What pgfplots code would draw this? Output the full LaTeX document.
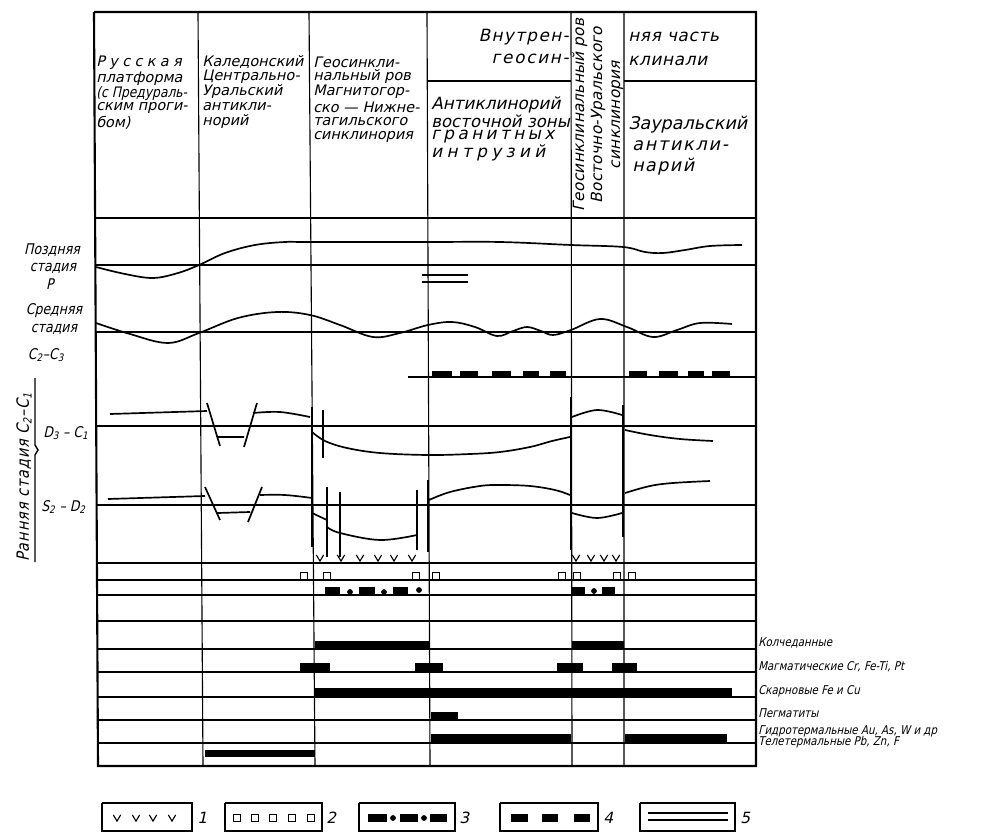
\documentclass[border=0pt]{standalone}
\usepackage{pgfplots}
\pgfplotsset{compat=1.18}
\usepackage{fontspec}
\setmainfont{DejaVu Sans}
\newfontfamily\gost{DejaVu Sans}[FakeSlant=0.22]
\newfontfamily\gostn{DejaVu Sans}[FakeSlant=0.22, FakeStretch=0.85]

% small "v" used for the volcanic rows
\pgfdeclareplotmark{vee}{%
  \pgfpathmoveto{\pgfqpoint{-2.6pt}{2.2pt}}%
  \pgfpathlineto{\pgfqpoint{0pt}{-2.2pt}}%
  \pgfpathlineto{\pgfqpoint{2.6pt}{2.2pt}}%
  \pgfusepathqstroke}

\tikzset{
  rule/.style={black, line width=0.8pt},
  frame/.style={black, line width=1.5pt},
  curve/.style={black, line width=1.2pt, smooth, tension=0.6},
  fault/.style={black, line width=2pt},
  bar/.style={black, line width=#1},
  hd/.style={font=\gost\fontsize{10.3}{11}\selectfont, anchor=west, inner sep=0pt},
  big/.style={font=\gost\fontsize{12}{13}\selectfont, anchor=west, inner sep=0pt},
  lab/.style={font=\gostn\fontsize{8.6}{9}\selectfont, anchor=west, inner sep=0pt},
  side/.style={font=\gostn\fontsize{10.5}{11}\selectfont, inner sep=0pt},
  num/.style={font=\gost\fontsize{11}{12}\selectfont, anchor=west, inner sep=0pt},
}

\begin{document}
\begin{tikzpicture}
\begin{axis}[
  hide axis, scale only axis,
  width=24.525cm, height=20.9cm,
  xmin=0, xmax=981, ymin=0, ymax=836,
  y dir=reverse, clip=false,
  unbounded coords=jump,
]
\addplot[draw=none] coordinates {(0,0) (981,836)};

% ---- table grid
\addplot[rule] coordinates {
  (95,218) (756,218) (0,nan) (95,265) (756,265) (0,nan)
  (95,332) (756,332) (0,nan) (96,426) (756,426) (0,nan)
  (97,505) (756,505) (0,nan) (97,563) (756,563) (0,nan)
  (97,580) (756,580) (0,nan) (97,595) (756,595) (0,nan)
  (97,621) (756,621) (0,nan) (97,649) (756,649) (0,nan)
  (97,672) (756,672) (0,nan) (98,697) (756,697) (0,nan)
  (98,720) (756,720) (0,nan) (98,743) (756,743) (0,nan)
  (428,81) (571,81) (0,nan) (624,81) (756,81) (0,nan)
  (408,377) (756,377)};
\addplot[rule] coordinates {
  (198,12) (203,766) (0,nan) (309,12) (315,766) (0,nan)
  (427,12) (430,766) (0,nan) (571,12) (572,766) (0,nan)
  (624,12) (624,766)};
\addplot[frame] coordinates {(94,12) (756,12) (756,766) (98,766) (94,12)};

% ---- late stage
\addplot[curve] coordinates {(96,267) (125,274) (153,278) (178,273) (199,265)
  (225,253) (255,245) (285,242) (310,242) (428,242) (500,242) (571,245)
  (623,247) (645,252) (663,253) (685,250) (710,246) (742,245)};
% ---- middle stage
\addplot[curve] coordinates {(96,323) (130,334) (168,343) (199,333) (238,318)
  (277,312) (310,315) (340,325) (373,337) (400,333) (428,325) (452,322)
  (475,327) (497,336) (513,331) (527,327) (541,331) (553,335) (571,330)
  (600,319) (627,327) (653,337) (677,330) (700,323) (732,324)};
\addplot[rule, line width=1.1pt] coordinates {(422,275) (468,275) (0,nan) (422,282) (468,282)};

% ---- early stage D3-C1
\addplot[curve] coordinates {(110,414) (207,411)};
\addplot[rule, line width=1.2pt] coordinates {(207,403) (220,446) (0,nan) (218,437) (244,437)
  (0,nan) (244,447) (257,403)};
\addplot[curve] coordinates {(253,413) (280,412) (310,417)};
\addplot[curve] coordinates {(312,432) (325,441) (347,448) (380,453) (428,455)
  (470,454) (500,452) (530,447) (552,441) (570,437)};
\addplot[curve] coordinates {(572,417) (597,410) (622,415)};
\addplot[curve] coordinates {(625,430) (650,435) (680,439) (713,441)};

% ---- early stage S2-D2
\addplot[curve] coordinates {(108,499) (205,496)};
\addplot[rule, line width=1.2pt] coordinates {(205,487) (220,520) (0,nan) (218,513) (250,512)
  (0,nan) (248,522) (262,487)};
\addplot[curve] coordinates {(260,495) (285,495) (312,498)};
\addplot[curve] coordinates {(312,513) (327,520)};
\addplot[curve] coordinates {(327,527) (340,533) (380,540) (417,535)};
\addplot[curve] coordinates {(429,500) (450,492) (480,486) (500,485) (530,486) (555,490) (570,495)};
\addplot[curve] coordinates {(572,513) (597,518) (622,513)};
\addplot[curve] coordinates {(625,493) (650,486) (673,483) (710,481)};

% ---- faults
\addplot[fault] coordinates {(312,407) (312,547) (0,nan) (428,480) (428,552)
  (0,nan) (571,397) (571,550) (0,nan) (623,405) (623,537)};
\addplot[rule, line width=1.5pt] coordinates {(323,410) (323,458) (0,nan) (327,487) (327,557)
  (0,nan) (340,492) (340,557) (0,nan) (417,490) (417,550)};

% ---- rows of signs 1-4
\addplot[only marks, mark=vee, line width=0.8pt] coordinates {(320,558) (341,558) (360,558)
  (378,558) (394,558) (412,558) (576,558) (591,558) (604,558) (616,558)};
\addplot[only marks, mark=square, mark size=2.5pt, line width=0.8pt] coordinates {(304,576)
  (327,576) (416,576) (436,576) (562,576) (577,576) (617,576) (632,576)};
\addplot[bar=5.7pt] coordinates {(325,591) (340,591) (0,nan) (359,591) (375,591) (0,nan)
  (393,591) (408,591) (0,nan) (571,591) (585,591) (0,nan) (602,591) (615,591)};
\addplot[only marks, mark=*, mark size=1.8pt] coordinates {(350,592) (384,592) (419,590) (594,591)};
\addplot[bar=4.3pt] coordinates {(432,374) (452,374) (0,nan) (460,374) (478,374) (0,nan)
  (492,374) (511,374) (0,nan) (523,374) (539,374) (0,nan) (550,374) (566,374) (0,nan)
  (629,374) (647,374) (0,nan) (659,374) (678,374) (0,nan) (688,374) (704,374) (0,nan)
  (712,374) (730,374)};

% ---- ore types
\addplot[bar=5pt] coordinates {(315,644.5) (430,644.5) (0,nan) (572,644.5) (624,644.5)};
\addplot[bar=6.4pt] coordinates {(300,667.5) (330,667.5) (0,nan) (415,667.5) (443,667.5)
  (0,nan) (557,667.5) (583,667.5) (0,nan) (612,667.5) (637,667.5)};
\addplot[bar=5.7pt] coordinates {(315,692) (732,692)};
\addplot[bar=5pt] coordinates {(431,715.5) (458,715.5)};
\addplot[bar=5.7pt] coordinates {(431,738) (571,738) (0,nan) (625,738) (727,738)};
\addplot[bar=5pt] coordinates {(205,753.5) (315,753.5)};

% ---- legend boxes
\addplot[rule, line width=1pt] coordinates {(102,803) (192,803) (192,831) (102,831) (102,803)
  (0,nan) (225,803) (322,803) (322,831) (225,831) (225,803)
  (0,nan) (359,803) (455,803) (455,831) (359,831) (359,803)
  (0,nan) (500,803) (598,803) (598,831) (500,831) (500,803)
  (0,nan) (640,803) (735,803) (735,831) (640,831) (640,803)};
\addplot[only marks, mark=vee, line width=0.8pt] coordinates {(117,818) (136,818) (153,818) (172,818)};
\addplot[only marks, mark=square, mark size=2.5pt, line width=0.8pt] coordinates {(237,818)
  (255,818) (273,818) (292,818) (311,818)};
\addplot[bar=5.7pt] coordinates {(368,818) (387,818) (0,nan) (400,818) (418,818) (0,nan) (430,818) (447,818)};
\addplot[only marks, mark=*, mark size=1.8pt] coordinates {(393,818) (424,818)};
\addplot[bar=5.7pt] coordinates {(511,818) (528,818) (0,nan) (542,818) (558,818) (0,nan) (574,818) (590,818)};
\addplot[rule, line width=1.1pt] coordinates {(648,813) (728,813) (0,nan) (648,820) (728,820)};

% ---- header texts
\node[hd] at (axis cs:96,63) {\addfontfeature{LetterSpace=30}Русская};
\node[hd] at (axis cs:96,79) {платформа};
\node[hd, font=\gostn\fontsize{10.3}{11}\selectfont] at (axis cs:96,94) {(с Предураль-};
\node[hd] at (axis cs:96,108) {ским проги-};
\node[hd] at (axis cs:96,123) {бом)};

\node[hd] at (axis cs:202,62) {Каледонский};
\node[hd] at (axis cs:202,77) {Центрально-};
\node[hd] at (axis cs:202,92) {Уральский};
\node[hd] at (axis cs:202,107) {антикли-};
\node[hd] at (axis cs:202,122) {норий};

\node[hd] at (axis cs:313,62) {Геосинкли-};
\node[hd] at (axis cs:313,77) {нальный ров};
\node[hd] at (axis cs:313,92) {Магнитогор-};
\node[hd] at (axis cs:313,107) {ско — Нижне-};
\node[hd] at (axis cs:313,122) {тагильского};
\node[hd] at (axis cs:313,137) {синклинория};

\node[big, anchor=east] at (axis cs:569,37) {\addfontfeature{LetterSpace=8}Внутрен-};
\node[big, anchor=east] at (axis cs:569,59) {\addfontfeature{LetterSpace=10}геосин-};
\node[big] at (axis cs:628,37) {\addfontfeature{LetterSpace=4}няя часть};
\node[big] at (axis cs:628,61) {\addfontfeature{LetterSpace=4}клинали};

\node[big] at (axis cs:431,105) {Антиклинорий};
\node[big, font=\gost\fontsize{11.8}{13}\selectfont] at (axis cs:431,121) {восточной зоны};
\node[big] at (axis cs:431,137) {\addfontfeature{LetterSpace=20}гранитных};
\node[big] at (axis cs:431,153) {\addfontfeature{LetterSpace=26}интрузий};

\node[big, font=\gost\fontsize{12.5}{14}\selectfont] at (axis cs:628,125) {Зауральский};
\node[big, font=\gost\fontsize{12.5}{14}\selectfont] at (axis cs:632,146) {\addfontfeature{LetterSpace=10}антикли-};
\node[big, font=\gost\fontsize{12.5}{14}\selectfont] at (axis cs:632,167) {\addfontfeature{LetterSpace=8}нарий};

\node[font=\gost\fontsize{11}{12.8}\selectfont, rotate=90, align=center, inner sep=0pt]
  at (axis cs:598,115) {\addfontfeature{LetterSpace=1}Геосинклинальный ров\\\addfontfeature{LetterSpace=1}Восточно-Уральского\\\addfontfeature{LetterSpace=1}синклинория};

% ---- stage labels (left)
\node[side] at (axis cs:52,250) {Поздняя};
\node[side] at (axis cs:53,268) {стадия};
\node[side] at (axis cs:50,284) {P};
\node[side] at (axis cs:54,311) {Средняя};
\node[side] at (axis cs:54,329) {стадия};
\node[side] at (axis cs:46,355) {C\textsubscript{2}–C\textsubscript{3}};
\node[side, anchor=west] at (axis cs:43,433) {D\textsubscript{3} – C\textsubscript{1}};
\node[side, anchor=west] at (axis cs:41,507) {S\textsubscript{2} – D\textsubscript{2}};
\node[font=\gostn\fontsize{12}{12}\selectfont, rotate=90, anchor=west, inner sep=0pt]
  at (axis cs:24,562) {\addfontfeature{LetterSpace=6}Ранняя стадия C\textsubscript{2}–C\textsubscript{1}};
\addplot[rule, line width=1pt] coordinates {(35,562) (35,455) (38,450) (35,445) (35,378)};

% ---- ore labels (right)
\node[lab] at (axis cs:758,643) {Колчеданные};
\node[lab] at (axis cs:758,667) {Магматические Cr, Fe-Ti, Pt};
\node[lab] at (axis cs:758,691) {Скарновые Fe и Cu};
\node[lab] at (axis cs:758,713) {Пегматиты};
\node[lab] at (axis cs:758,731) {Гидротермальные Au, As, W и др};
\node[lab] at (axis cs:758,742) {Телетермальные Pb, Zn, F};

% ---- legend numbers
\node[num] at (axis cs:197,818) {1};
\node[num] at (axis cs:326,818) {2};
\node[num] at (axis cs:459,818) {3};
\node[num] at (axis cs:603,818) {4};
\node[num] at (axis cs:740,818) {5};
\end{axis}
\end{tikzpicture}
\end{document}
